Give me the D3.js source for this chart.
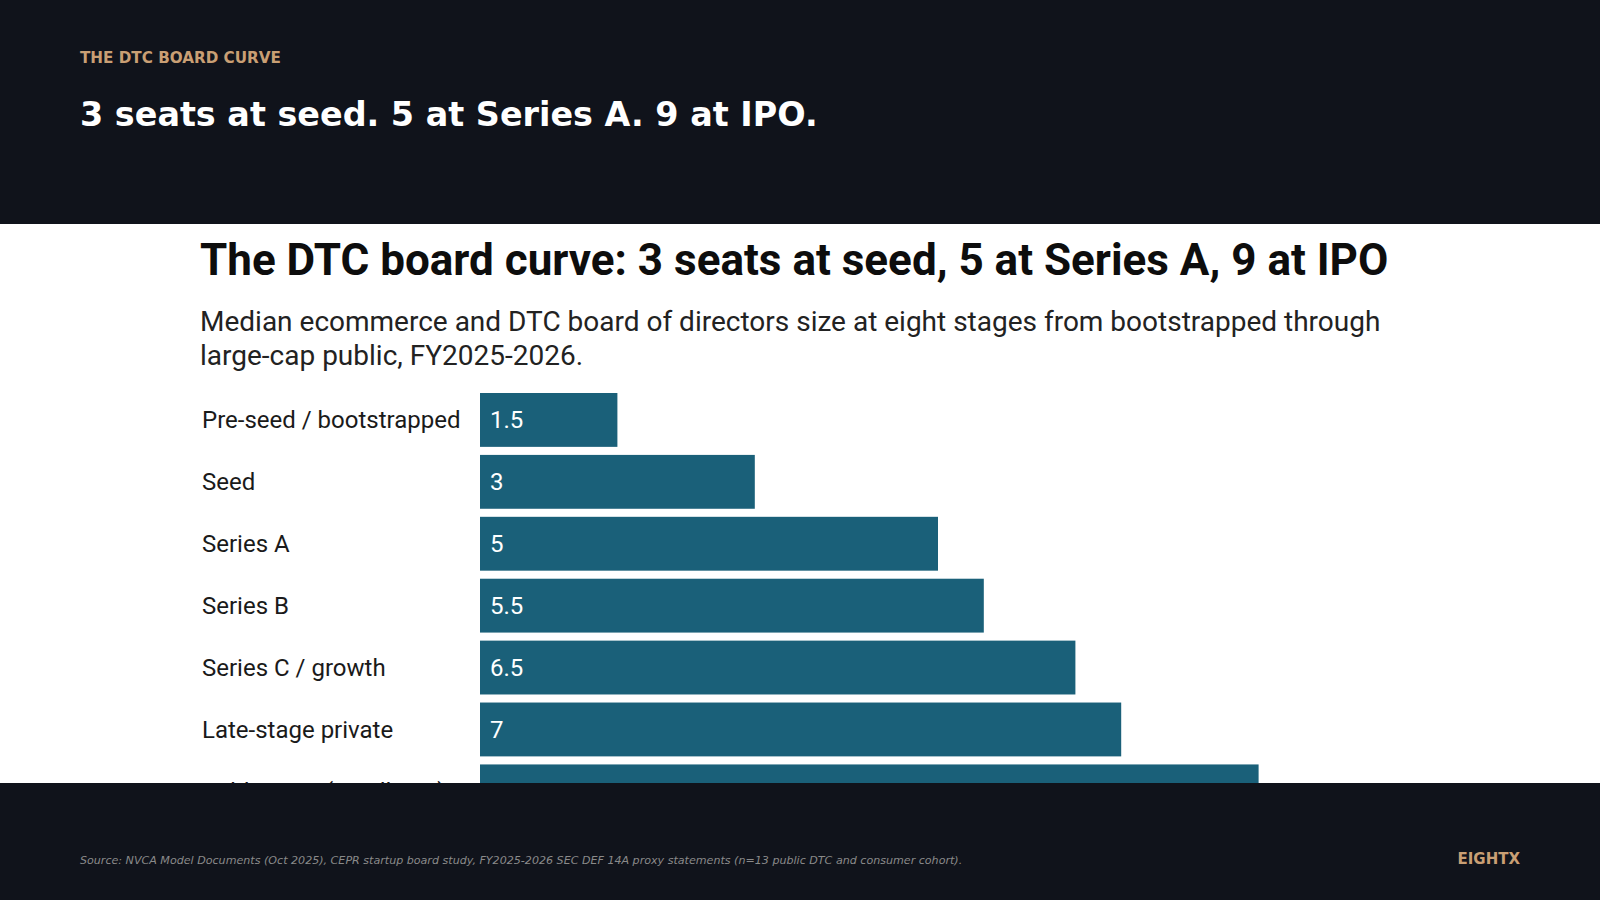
<!DOCTYPE html>
<html><head><meta charset="utf-8">
<script src="https://cdn.jsdelivr.net/npm/d3@7"></script>
<style>html,body{margin:0;padding:0;background:#10131b;}</style>
</head><body>
<svg id="c" width="1600" height="900"></svg>
<script>
const categories = ["Pre-seed / bootstrapped","Seed","Series A","Series B","Series C / growth","Late-stage private","Public DTC (small-cap)","Public DTC (large-cap)"];
const boardSize = [1.5,3,5,5.5,6.5,7,8.5,10];

const svg = d3.select("#c");
svg.append("rect").attr("width",1600).attr("height",900).attr("fill","#10131b");
svg.append("text").attr("x",80).attr("y",63).attr("fill","#c99f74")
  .attr("font-family","DejaVu Sans").attr("font-weight","bold").attr("font-size",15.2).text("THE DTC BOARD CURVE");
svg.append("text").attr("x",80).attr("y",126).attr("fill","#ffffff")
  .attr("font-family","DejaVu Sans").attr("font-weight","bold").attr("font-size",33.4).text("3 seats at seed. 5 at Series A. 9 at IPO.");

svg.append("clipPath").attr("id","panel").append("rect").attr("x",0).attr("y",224).attr("width",1600).attr("height",559);
svg.append("rect").attr("x",0).attr("y",224).attr("width",1600).attr("height",559).attr("fill","#ffffff");
const g = svg.append("g").attr("clip-path","url(#panel)");

g.append("text").attr("x",200).attr("y",275).attr("fill","#0d0d0d")
  .attr("font-family","Roboto").attr("font-weight","bold").attr("font-size",44)
  .text("The DTC board curve: 3 seats at seed, 5 at Series A, 9 at IPO");
const sub = ["Median ecommerce and DTC board of directors size at eight stages from bootstrapped through","large-cap public, FY2025-2026."];
sub.forEach((s,i)=>g.append("text").attr("x",200).attr("y",331+i*34).attr("fill","#222")
  .attr("font-family","Roboto").attr("font-size",28).text(s));

const x = d3.scaleLinear().domain([0,10]).range([480,1396]);
const y = d3.scaleBand().domain(categories).range([393,393+60.9*categories.length]).paddingInner(0.13).paddingOuter(0);

g.selectAll("rect.bar").data(categories).join("rect").attr("class","bar")
  .attr("x",x(0)).attr("y",d=>y(d)).attr("height",y.bandwidth())
  .attr("width",(d,i)=>x(boardSize[i])-x(0)).attr("fill","#1a6079");
g.selectAll("text.lab").data(categories).join("text").attr("class","lab")
  .attr("x",202).attr("y",d=>y(d)+y.bandwidth()/2).attr("dy","0.34em")
  .attr("font-family","Roboto").attr("font-size",24).attr("fill","#1a1a1a").text(d=>d);
g.selectAll("text.val").data(categories).join("text").attr("class","val")
  .attr("x",x(0)+10).attr("y",d=>y(d)+y.bandwidth()/2).attr("dy","0.34em")
  .attr("font-family","Roboto").attr("font-size",24).attr("fill","#ffffff").text((d,i)=>boardSize[i]);

svg.append("text").attr("x",80).attr("y",864).attr("fill","#8a8a8a")
  .attr("font-family","DejaVu Sans").attr("font-style","italic").attr("font-size",11.1)
  .text("Source: NVCA Model Documents (Oct 2025), CEPR startup board study, FY2025-2026 SEC DEF 14A proxy statements (n=13 public DTC and consumer cohort).");
svg.append("text").attr("x",1520).attr("y",864).attr("text-anchor","end").attr("fill","#c99f74")
  .attr("font-family","DejaVu Sans").attr("font-weight","bold").attr("font-size",15).text("EIGHTX");
</script>
</body></html>
